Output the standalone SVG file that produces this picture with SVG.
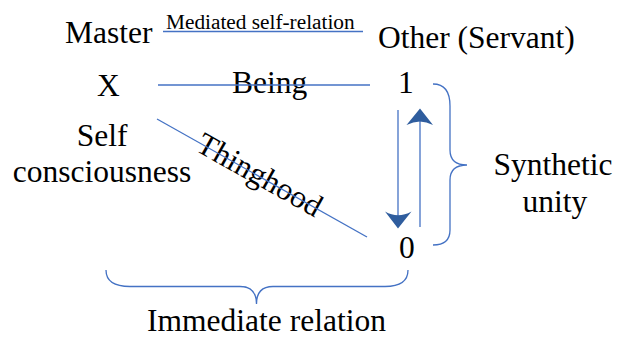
<svg xmlns="http://www.w3.org/2000/svg" width="618" height="337" viewBox="0 0 618 337">
<style>
text{font-family:"Liberation Serif","Times New Roman",serif;fill:#000}
.big{font-size:31.5px}
.small{font-size:21.3px}
.ln{stroke:#4472c4;stroke-width:1.3;fill:none}
.head{fill:#2f5d9e;stroke:none}
</style>
<rect width="618" height="337" fill="#fff"/>
<g id="master"><text class="big" x="65" y="43">Master</text></g>
<g id="mediated"><text class="small" x="166" y="29">Mediated self-relation</text></g>
<g id="other"><text class="big" x="378" y="48">Other (Servant)</text></g>
<g id="x"><text class="big" x="97" y="96">X</text></g>
<g id="being"><text class="big" x="232" y="93">Being</text></g>
<g id="one"><text class="big" x="398" y="93">1</text></g>
<g id="self"><text class="big" x="102" y="146" text-anchor="middle">Self</text><text class="big" x="102" y="182" text-anchor="middle">consciousness</text></g>
<g id="thinghood"><text class="big" transform="translate(259,176) rotate(29.3)" x="0" y="9" text-anchor="middle">Thinghood</text></g>
<g id="zero"><text class="big" x="399" y="258">0</text></g>
<g id="synthetic"><text class="big" x="553" y="175" text-anchor="middle">Synthetic</text><text class="big" x="555" y="212" text-anchor="middle">unity</text></g>
<g id="immediate"><text class="big" x="266.5" y="331" text-anchor="middle">Immediate relation</text></g>
<g id="connectors">
<line class="ln" x1="163" y1="31.5" x2="363" y2="31.5"/>
<line class="ln" x1="158" y1="85" x2="370" y2="85"/>
<line class="ln" x1="157" y1="119" x2="367" y2="237"/>
<line class="ln" x1="398" y1="110" x2="398" y2="218"/>
<path class="head" d="M398,228.5 L385,211.5 Q398,219 411.5,211.5 Z"/>
<line class="ln" x1="420" y1="227" x2="420" y2="118"/>
<path class="head" d="M420,108.5 L406.5,125 Q420,118 433,125 Z"/>
<path class="ln" d="M433,84 Q450,84 450,106 L450,150 Q450,165 467,165 Q450,165 450,180 L450,230 Q450,245 433,245"/>
<path class="ln" d="M106,270 Q106,286.5 130,286.5 L240,286.5 Q256.5,286.5 256.5,304 Q256.5,286.5 273,286.5 L385,286.5 Q408,286.5 408,270"/>
</g>
</svg>
